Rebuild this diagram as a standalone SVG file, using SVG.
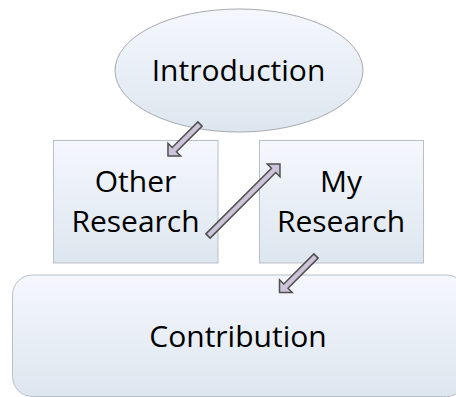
<svg xmlns="http://www.w3.org/2000/svg" width="456" height="397" viewBox="0 0 456 397">
  <defs>
    <linearGradient id="gFill" x1="0" y1="0" x2="0" y2="1">
      <stop offset="0" stop-color="#F5F7FD"/>
      <stop offset="1" stop-color="#DDE6EF"/>
    </linearGradient>
    <style>
      .box { fill: url(#gFill); stroke: #B9BFC9; stroke-width: 1; }
      .ell { fill: url(#gFill); stroke: #A6A9AE; stroke-width: 1; }
      .lbl { font-family: "Open Sans", "Liberation Sans", sans-serif; font-size: 30px; fill: #000; text-anchor: middle; }
      .arr { fill: #CDC4D9; stroke: #4F4F4F; stroke-width: 1.5; stroke-linejoin: miter; }
    </style>
  </defs>
  <rect width="456" height="397" fill="#FFFFFF"/>

  <g id="contribution">
    <rect class="box" x="12.5" y="275" width="454" height="121.5" rx="20" ry="20"/>
    <text class="lbl" x="238" y="347">Contribution</text>
  </g>

  <g id="introduction">
    <ellipse class="ell" cx="239" cy="70.5" rx="124" ry="61.5"/>
    <text class="lbl" x="238.5" y="81">Introduction</text>
  </g>

  <g id="other-research">
    <rect class="box" x="53.5" y="140.5" width="164.5" height="122.5"/>
    <text class="lbl" x="135.5" y="192">Other</text>
    <text class="lbl" x="135.5" y="232">Research</text>
  </g>

  <g id="my-research">
    <rect class="box" x="259.5" y="140.5" width="164" height="122.5"/>
    <text class="lbl" x="341" y="192">My</text>
    <text class="lbl" x="341" y="232">Research</text>
  </g>

  <g id="connectors">
    <polygon class="arr" transform="translate(200,124) rotate(135)" points="0,-3 36.3,-3 36.3,-9 45.3,0 36.3,9 36.3,3 0,3"/>
    <polygon class="arr" transform="translate(208,236) rotate(-45)" points="0,-3 92.8,-3 92.8,-9 101.8,0 92.8,9 92.8,3 0,3"/>
    <polygon class="arr" transform="translate(316,256) rotate(135)" points="0,-3 42.6,-3 42.6,-9 51.6,0 42.6,9 42.6,3 0,3"/>
  </g>
</svg>
